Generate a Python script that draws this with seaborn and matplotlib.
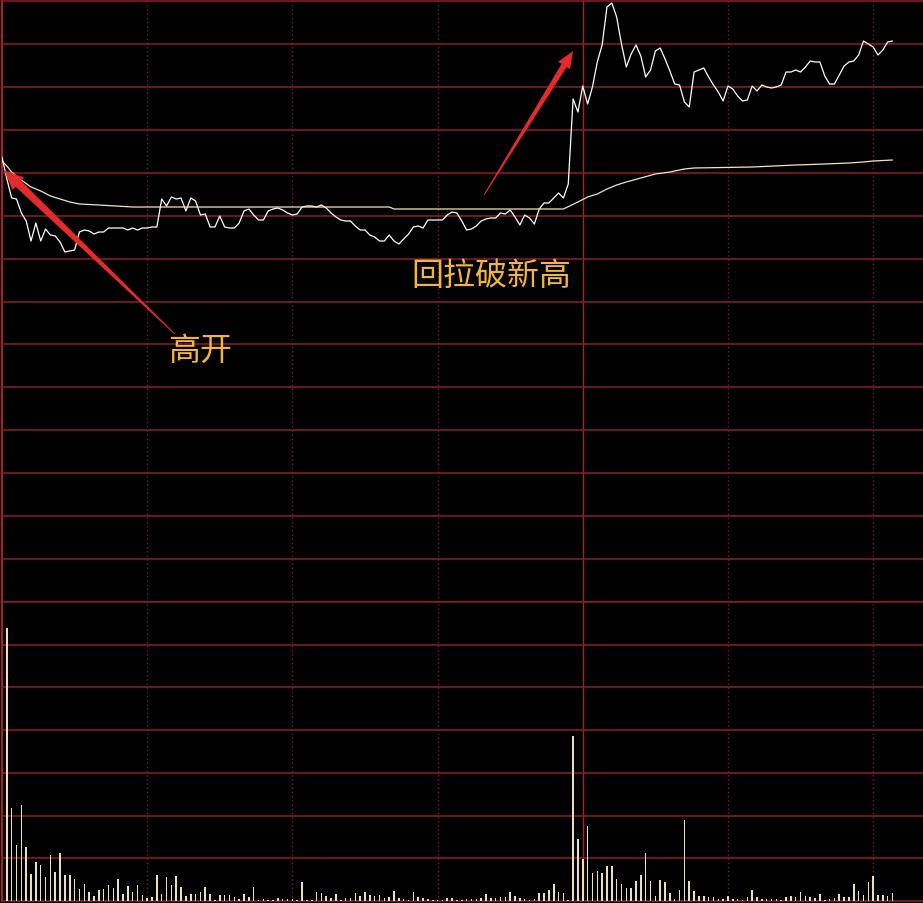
import numpy as np
import matplotlib
matplotlib.use("Agg")
import matplotlib.pyplot as plt
from matplotlib.patches import Polygon
from matplotlib.transforms import IdentityTransform
import seaborn as sns

sns.set_theme(style="dark")
plt.rcParams['font.family'] = ['Noto Sans CJK SC', 'DejaVu Sans']

# intraday minute data (minute 0 = open)
minutes = np.arange(0, 185)
price = [
    8.42, 8.20, 8.01, 8.00, 7.86, 7.78, 7.58, 7.76, 7.58, 7.70,
    7.64, 7.63, 7.57, 7.47, 7.48, 7.49, 7.67, 7.69, 7.68, 7.65,
    7.67, 7.67, 7.71, 7.71, 7.71, 7.71, 7.69, 7.71, 7.69, 7.71,
    7.71, 7.72, 7.72, 8.00, 7.93, 8.02, 8.00, 8.01, 7.88, 8.01,
    7.98, 7.84, 7.85, 7.72, 7.72, 7.83, 7.72, 7.71, 7.71, 7.76,
    7.88, 7.90, 7.84, 7.79, 7.79, 7.88, 7.90, 7.91, 7.89, 7.86,
    7.84, 7.85, 7.92, 7.93, 7.93, 7.92, 7.94, 7.91, 7.86, 7.82,
    7.79, 7.78, 7.78, 7.73, 7.69, 7.69, 7.64, 7.62, 7.58, 7.58,
    7.64, 7.58, 7.55, 7.60, 7.65, 7.72, 7.73, 7.71, 7.79, 7.79,
    7.79, 7.79, 7.84, 7.87, 7.86, 7.78, 7.69, 7.70, 7.73, 7.78,
    7.80, 7.81, 7.81, 7.86, 7.85, 7.89, 7.82, 7.74, 7.84, 7.81,
    7.75, 7.90, 7.96, 7.96, 8.01, 8.06, 8.01, 8.15, 9.00, 8.87,
    9.13, 8.95, 9.12, 9.37, 9.54, 9.92, 9.96, 9.82, 9.55, 9.32,
    9.45, 9.54, 9.43, 9.22, 9.29, 9.48, 9.51, 9.40, 9.28, 9.15,
    9.14, 8.97, 8.92, 9.27, 9.29, 9.31, 9.22, 9.14, 9.07, 8.98,
    9.13, 9.10, 9.03, 8.98, 8.99, 9.13, 9.08, 9.14, 9.12, 9.11,
    9.12, 9.14, 9.27, 9.27, 9.29, 9.27, 9.32, 9.38, 9.37, 9.37,
    9.23, 9.15, 9.15, 9.24, 9.33, 9.37, 9.38, 9.44, 9.58, 9.55,
    9.52, 9.44, 9.49, 9.57, 9.58,
]

# average price line
avg_minutes = [0, 1, 2, 3, 4, 6, 8, 10, 12, 14, 16, 20, 27, 47, 80, 81, 116, 119,
               121, 123, 125, 127, 129, 132, 135, 138, 141, 143, 155, 164, 170,
               175, 178, 180, 184]
avg_price = [8.38, 8.33, 8.27, 8.23, 8.19, 8.12, 8.08, 8.03, 8.00, 7.97, 7.95, 7.94,
             7.92, 7.92, 7.92, 7.90, 7.90, 7.97, 8.02, 8.05, 8.10, 8.14, 8.17, 8.21,
             8.25, 8.27, 8.30, 8.31, 8.32, 8.34, 8.35, 8.36, 8.37, 8.38, 8.39]

# volume (hundreds of lots)
vol_minutes = np.arange(1, 185)
volume = [
    273, 93, 56, 96, 54, 27, 39, 36, 24, 46,
    29, 48, 26, 26, 22, 12, 17, 9, 5, 11,
    12, 16, 13, 22, 7, 15, 9, 16, 6, 3,
    4, 26, 7, 24, 16, 25, 14, 5, 7, 7,
    9, 14, 7, 1, 6, 6, 6, 4, 2, 7,
    4, 14, 1, 2, 1, 1, 3, 2, 2, 2,
    1, 19, 1, 1, 9, 8, 5, 3, 7, 1,
    3, 3, 8, 5, 9, 6, 5, 6, 3, 4,
    10, 3, 2, 1, 9, 4, 3, 2, 1, 1,
    1, 3, 3, 1, 1, 2, 2, 2, 3, 7,
    3, 3, 4, 4, 9, 5, 3, 2, 1, 2,
    8, 8, 11, 17, 9, 8, 1, 165, 62, 42,
    75, 28, 30, 28, 35, 35, 22, 17, 13, 13,
    20, 26, 48, 20, 5, 21, 19, 8, 2, 11,
    81, 20, 10, 5, 5, 4, 4, 2, 2, 5,
    2, 2, 1, 4, 11, 4, 2, 2, 2, 2,
    1, 4, 5, 4, 9, 5, 4, 3, 7, 1,
    2, 3, 7, 4, 4, 17, 10, 6, 19, 25,
    6, 6, 5, 8,
]

# colours
grid_red = '#8c1f2a'
dot_red = '#7a1e28'
arrow_red = '#e42a2b'
label_gold = '#f3b53b'


def tapered_arrow(ax, tail, head, base_w, head_w, head_l):
    # body narrows to a point at the tail, widths in pixels
    t = ax.transData.transform(tail)
    h = ax.transData.transform(head)
    u = (h - t) / np.hypot(*(h - t))
    n = np.array([-u[1], u[0]])
    b = h - u * head_l
    pts = [t + n * 0.5, b + n * base_w / 2, b + n * head_w / 2, h,
           b - n * head_w / 2, b - n * base_w / 2, t - n * 0.5]
    ax.add_patch(Polygon(pts, closed=True, transform=IdentityTransform(),
                         facecolor=arrow_red, lw=0, zorder=5, clip_on=False))


fig = plt.figure(figsize=(9.23, 9.04), dpi=100, facecolor='black')
ax = fig.add_axes([2 / 923, 301 / 904, 921 / 923, 601 / 904])
axv = fig.add_axes([2 / 923, 2 / 904, 921 / 923, 299 / 904])

x_max = 190.3
for a in (ax, axv):
    a.set_facecolor('black')
    a.set_xlim(0, x_max)
    for m in (30, 60, 90, 150, 180):
        a.axvline(m, color=dot_red, lw=1.0, ls=(0, (1, 2)), zorder=1)
    a.axvline(120, color='#a22030', lw=1.0, zorder=1)
    a.axvline(0, color='#a22030', lw=1.5, zorder=1, clip_on=False)

# price panel
ax.set_ylim(3.97, 9.98)
for yv in np.linspace(3.97, 9.98, 15):
    ax.axhline(yv, color=grid_red, lw=1.1, zorder=1, clip_on=False)

sns.lineplot(x=minutes, y=price, color='white', lw=0.9, ax=ax, zorder=3)
sns.lineplot(x=avg_minutes, y=avg_price, color='#f1e7b6', lw=0.9, ax=ax, zorder=3)

# volume panel
sns.barplot(x=vol_minutes, y=volume, native_scale=True, width=0.32, color='#e8e2b5',
            saturation=1, linewidth=0, errorbar=None, ax=axv, zorder=3)
axv.set_xlim(0, x_max)
axv.set_ylim(0, 299)
for yv in np.linspace(0, 299, 8):
    axv.axhline(yv, color=grid_red, lw=1.1, zorder=1, clip_on=False)

# annotations
ax.set_xlim(0, x_max)
ax.set_ylim(3.97, 9.98)
tapered_arrow(ax, tail=(35.7, 6.65), head=(0.4, 8.29), base_w=8, head_w=17, head_l=20)
tapered_arrow(ax, tail=(99.6, 8.04), head=(118.0, 9.48), base_w=6, head_w=14, head_l=17)
ax.text(40.9, 6.49, '高开', color=label_gold, fontsize=23, ha='center', va='center', zorder=6)
ax.text(101.2, 7.24, '回拉破新高', color=label_gold, fontsize=23, ha='center', va='center', zorder=6)

for a in (ax, axv):
    a.set_xticks([])
    a.set_yticks([])
    a.set_xlabel('')
    a.set_ylabel('')
    for s in a.spines.values():
        s.set_visible(False)

fig.savefig('out.png', dpi=100, facecolor='black')
